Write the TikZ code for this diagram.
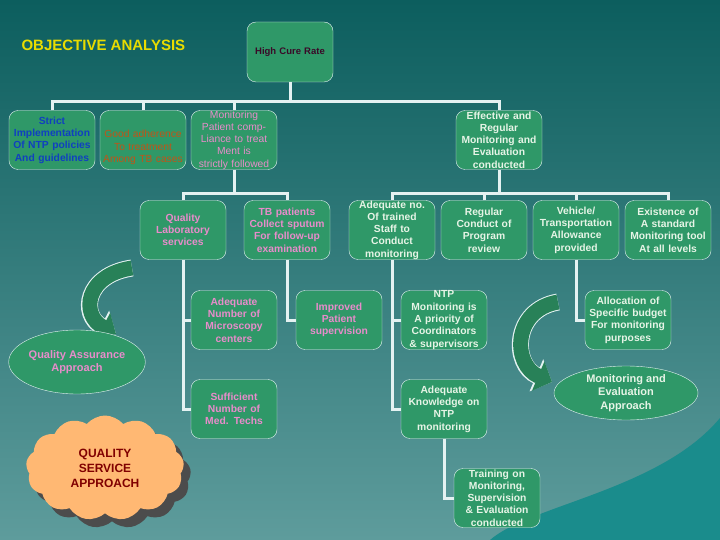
\documentclass[tikz,border=0pt]{standalone}
\usepackage{fontspec}
\setmainfont{Liberation Sans}
\usetikzlibrary{shapes.geometric,shapes.symbols,arrows.meta,calc}
\definecolor{boxg}{HTML}{2F9868}
\definecolor{pinkt}{HTML}{E88CCB}
\definecolor{whitet}{HTML}{E6F4E6}
\definecolor{bluet}{HTML}{1040C0}
\definecolor{brownt}{HTML}{C05418}
\definecolor{maroon}{HTML}{3A0A28}
\definecolor{linec}{HTML}{E4F2F2}
\definecolor{bgtop}{HTML}{0C5E5E}
\definecolor{bgbot}{HTML}{5E9C9C}
\definecolor{cloudc}{HTML}{FFB873}
\definecolor{wavec}{HTML}{1A8C8C}
\begin{document}
\begin{tikzpicture}[x=1pt,y=-1pt,
  bx/.style={draw=linec,fill=boxg,rounded corners=9pt,minimum width=79pt,minimum height=59pt,text width=86pt,align=center,inner sep=0pt,font=\fontsize{10.3}{12.3}\selectfont},
  pk/.style={bx,text=pinkt,font=\fontsize{10.3}{12.3}\selectfont\bfseries},
  wt/.style={bx,text=whitet,font=\fontsize{10.3}{12.3}\selectfont\bfseries},
  conn/.style={draw=linec,line width=3pt}]
\shade[top color=bgtop,bottom color=bgbot] (0,0) rectangle (720,540);
\useasboundingbox (0,0) rectangle (720,540);
\fill[wavec] (490,540) .. controls (530,505) and (660,490) .. (720,418) -- (720,540) -- cycle;
\node[anchor=west,text=yellow!80!olive,font=\fontsize{15}{17}\selectfont\bfseries] (title) at (18,45) {OBJECTIVE ANALYSIS};
\node[bx,minimum height=60pt,text=maroon,font=\fontsize{9.5}{11}\selectfont\bfseries] (hcr) at (290,52) {High Cure Rate};
\node[bx,text=bluet,font=\fontsize{10.3}{12.3}\selectfont\bfseries] (strict) at (52,140) {Strict\\Implementation\\Of NTP policies\\And guidelines};
\node[bx,text=brownt,text depth=12pt] (good) at (143,140) {Good adherence\\To treatment\\Among TB cases};
\node[bx,text=pinkt] (mon) at (234,140) {Monitoring\\Patient comp-\\Liance to treat\\Ment is\\strictly followed};
\node[wt] (eff) at (499,140) {Effective and\\Regular\\Monitoring and\\Evaluation\\conducted};
\node[pk] (qlab) at (183,230) {Quality\\Laboratory\\services};
\node[pk] (tbp) at (287,230) {TB patients\\Collect sputum\\For follow-up\\examination};
\node[wt] (adno) at (392,230) {Adequate no.\\Of trained\\Staff to\\Conduct\\monitoring};
\node[wt] (reg) at (484,230) {Regular\\Conduct of\\Program\\review};
\node[wt] (veh) at (576,230) {Vehicle/\\Transportation\\Allowance\\provided};
\node[wt] (exi) at (668,230) {Existence of\\A standard\\Monitoring tool\\At all levels};
\node[pk] (micro) at (234,320) {Adequate\\Number of\\Microscopy\\centers};
\node[pk] (impr) at (339,320) {Improved\\Patient\\supervision};
\node[wt] (ntp) at (444,320) {NTP\\Monitoring is\\A priority of\\Coordinators\\\& supervisors};
\node[wt] (alloc) at (628,320) {Allocation of\\Specific budget\\For monitoring\\purposes};
\node[pk] (suff) at (234,409) {Sufficient\\Number of\\Med. Techs};
\node[wt] (know) at (444,409) {Adequate\\Knowledge on\\NTP\\monitoring};
\node[wt] (train) at (497,498) {Training on\\Monitoring,\\Supervision\\\& Evaluation\\conducted};
% connectors
\draw[conn] (hcr.south) -- ++(0,20) coordinate (bus1);
\draw[conn] (strict.north) -- ++(0,-9) -| (eff.north);
\draw[conn] (good.north) -- ++(0,-9);
\draw[conn] (mon.north) -- ++(0,-9);
\draw[conn] (mon.south) -- ++(0,23) coordinate (bus2);
\draw[conn] (qlab.north) -- ++(0,-7) -| (tbp.north);
\draw[conn] (eff.south) -- ++(0,23) coordinate (bus3);
\draw[conn] (adno.north) -- ++(0,-7) -| (exi.north);
\draw[conn] (reg.north) -- ++(0,-7);
\draw[conn] (veh.north) -- ++(0,-7);
\draw[conn] (qlab.south) |- (suff.west);
\draw[conn] (qlab.south |- micro.west) -- (micro.west);
\draw[conn] (tbp.south) |- (impr.west);
\draw[conn] (adno.south) |- (know.west);
\draw[conn] (adno.south |- ntp.west) -- (ntp.west);
\draw[conn] (know.south) |- (train.west);
\draw[conn] (veh.south) |- (alloc.west);
% curved arrows
\draw[linec,line width=17pt,-{Triangle[width=34pt,length=17pt]}] (132,268) .. controls (85,275) and (80,315) .. (116,334);
\draw[boxg!85!black,line width=15pt,-{Triangle[width=31pt,length=15pt]}] (132,268) .. controls (85,275) and (80,315) .. (116,334);
\draw[linec,line width=17pt,-{Triangle[width=34pt,length=17pt]}] (558,302) .. controls (512,310) and (512,365) .. (552,382);
\draw[boxg!85!black,line width=15pt,-{Triangle[width=31pt,length=15pt]}] (558,302) .. controls (512,310) and (512,365) .. (552,382);
% ellipses
\node[ellipse,draw=linec,fill=boxg,minimum width=130pt,minimum height=64pt,align=center,text=pinkt,font=\fontsize{11}{13.5}\selectfont\bfseries,inner sep=0pt] (qa) at (77,362) {Quality Assurance\\Approach};
\node[ellipse,draw=linec,fill=boxg,minimum width=144pt,minimum height=54pt,align=center,text=whitet,font=\fontsize{11}{13.5}\selectfont\bfseries,inner sep=0pt] (me) at (626,393) {Monitoring and\\Evaluation\\Approach};
% cloud
\node[cloud,cloud puffs=13,cloud puff arc=100,aspect=1.4,fill=gray!60!black,minimum width=158pt,minimum height=105pt] (cshadow) at (112,476) {};
\node[cloud,cloud puffs=13,cloud puff arc=100,aspect=1.4,fill=cloudc,minimum width=158pt,minimum height=105pt,align=center,text=red!50!black,font=\fontsize{12}{15}\selectfont\bfseries] (cloud) at (105,468) {QUALITY\\SERVICE\\APPROACH};
\end{tikzpicture}
\end{document}
